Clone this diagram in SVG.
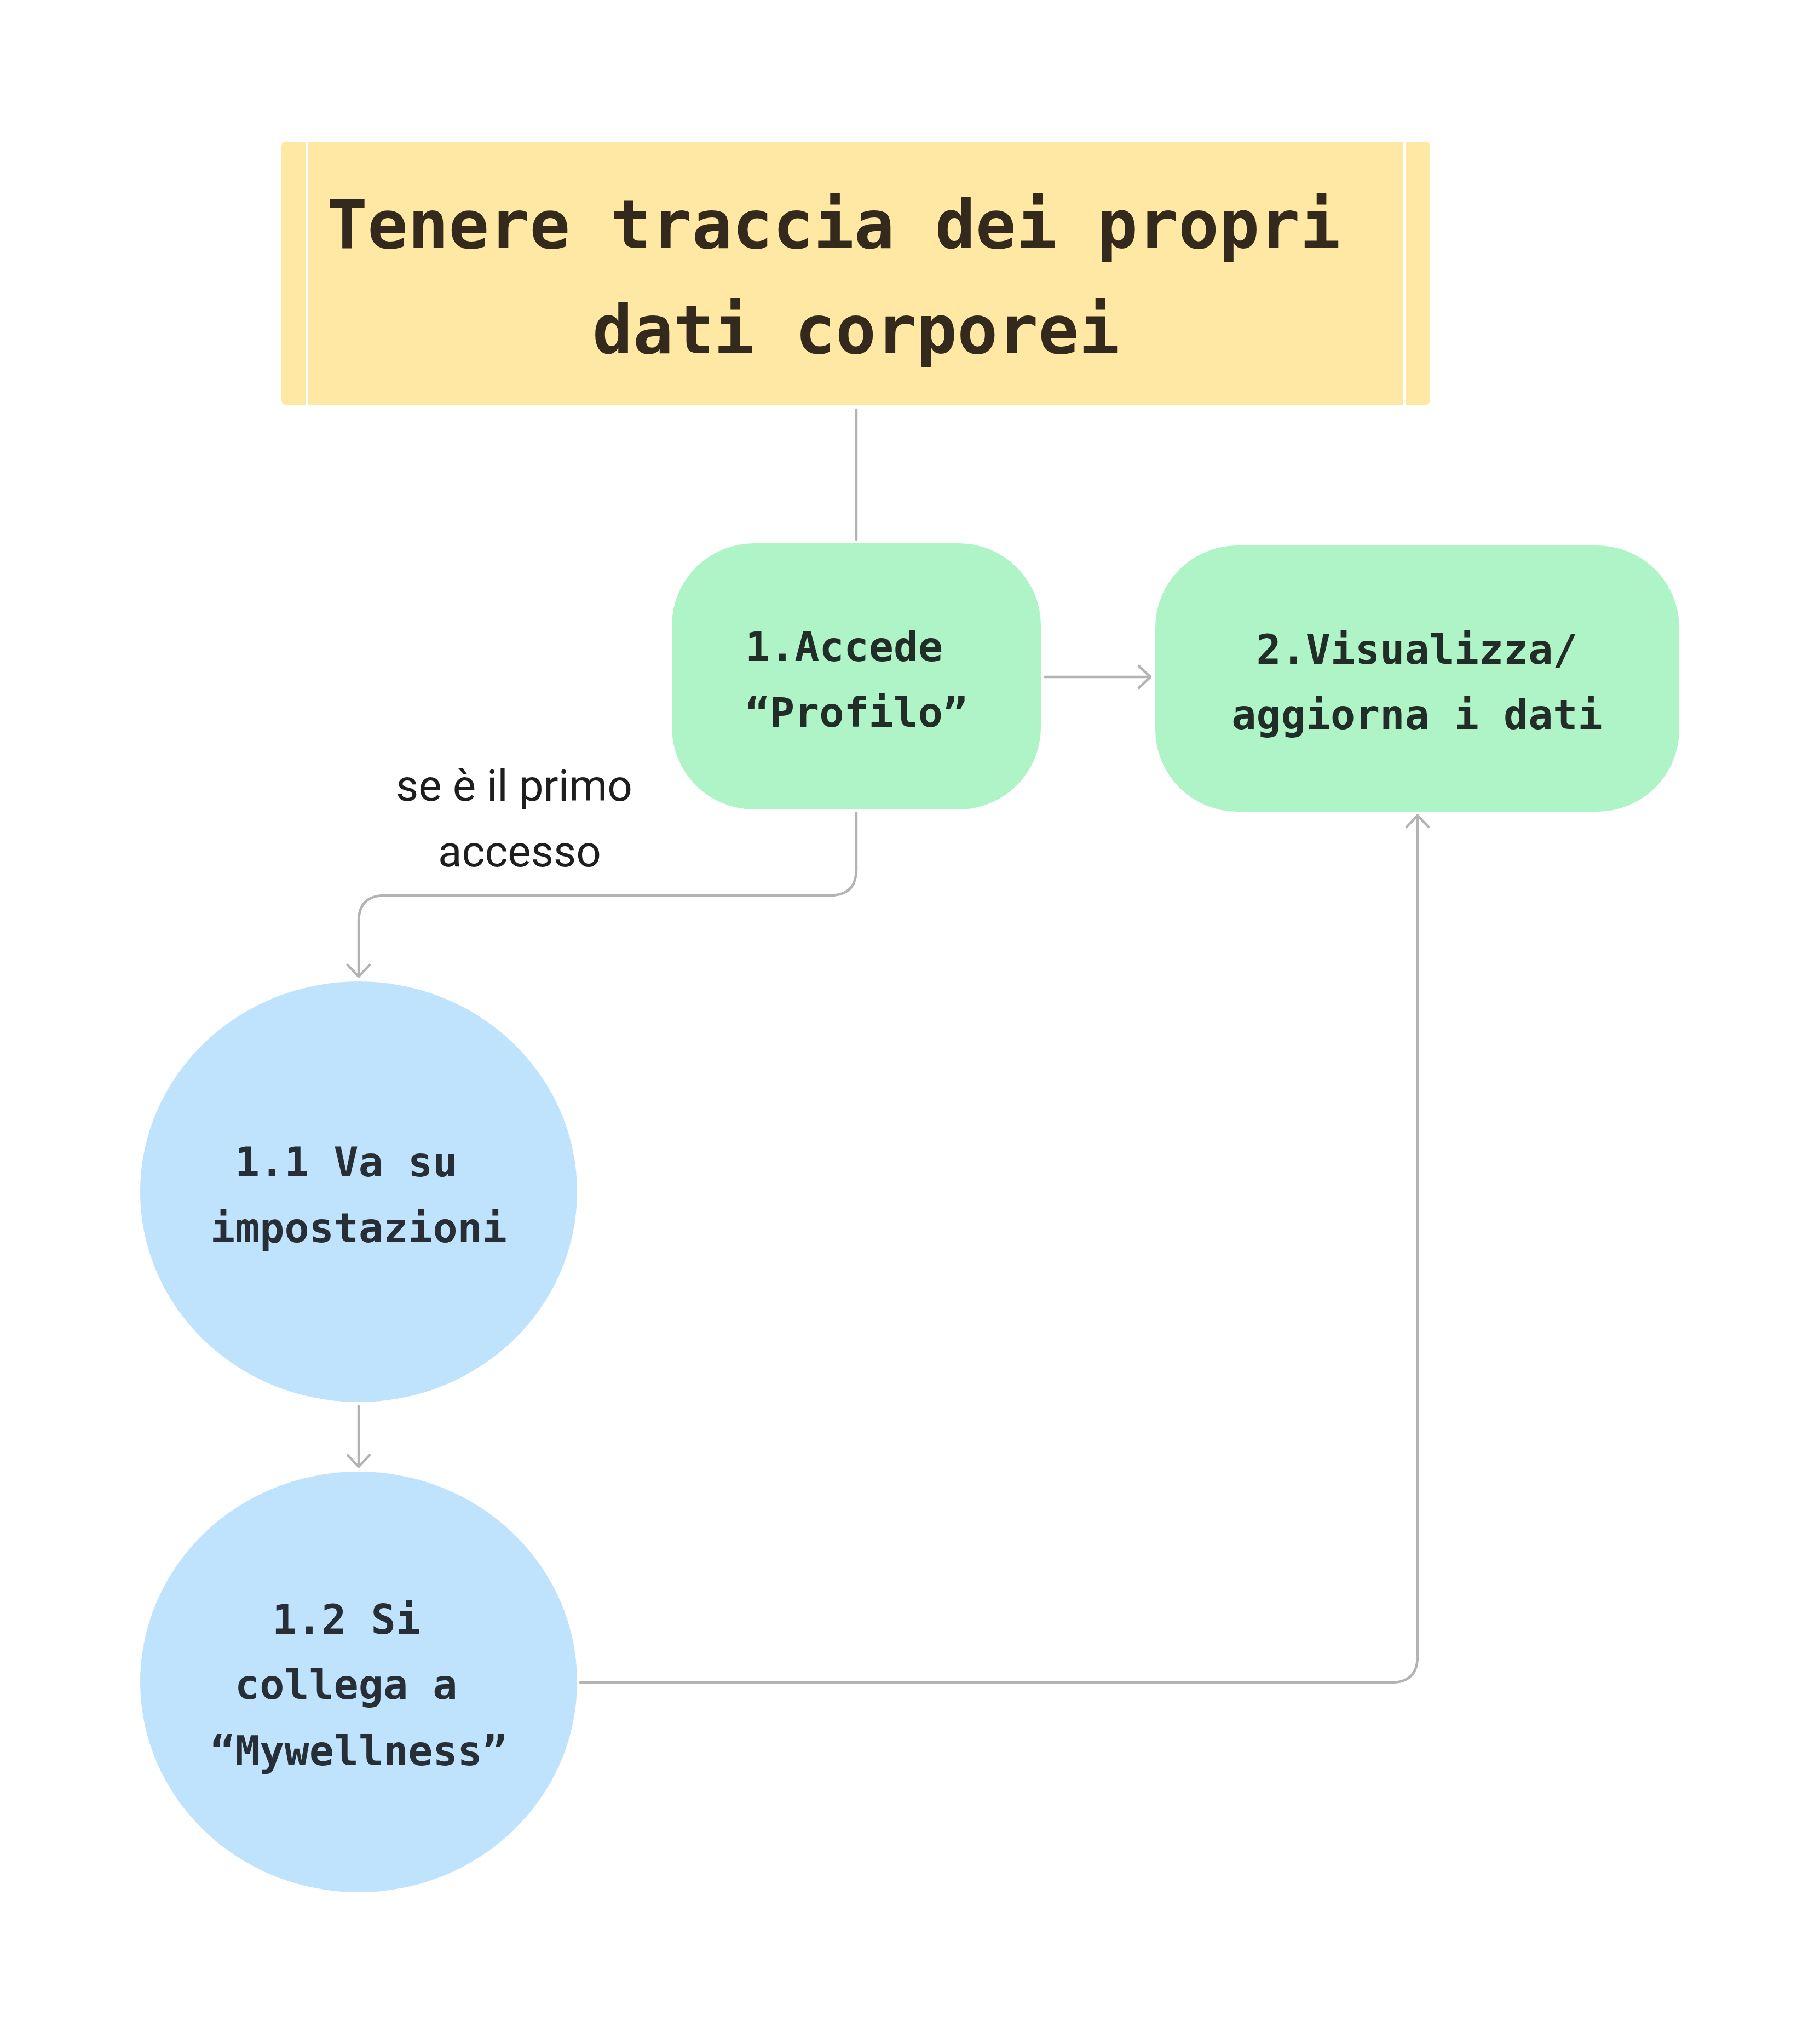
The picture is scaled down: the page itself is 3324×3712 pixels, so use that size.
<svg xmlns="http://www.w3.org/2000/svg" width="3324" height="3712" viewBox="0 0 3324 3712">
<style>
.mono{font-family:"DejaVu Sans Mono","Liberation Mono",monospace;font-weight:bold}
.title{font-size:123px;fill:#33291c}
.ntext{font-size:75px;fill:#232d27}
.ctext{font-size:75px;fill:#282e35}
.lbl{font-family:Roboto,"Liberation Sans",sans-serif;font-size:80px;fill:#1e1e1e}
.conn{fill:none;stroke:#b3b3b3;stroke-width:4.5;stroke-linecap:round}
</style>
<defs>
<marker id="arr" markerUnits="userSpaceOnUse" markerWidth="60" markerHeight="60" viewBox="-30 -30 60 60" refX="0" refY="0" orient="auto">
<path d="M-21,-20 L0,0 L-21,20" fill="none" stroke="#b3b3b3" stroke-width="4.5" stroke-linecap="round" stroke-linejoin="round"/>
</marker>
</defs>
<rect width="3324" height="3712" fill="#ffffff"/>
<g id="connectors">
<path class="conn" d="M1564,748 V985"/>
<path class="conn" d="M1908,1236 H2101" marker-end="url(#arr)"/>
<path class="conn" d="M1564,1484 V1587 Q1564,1635 1516,1635 H703 Q655,1635 655,1683 V1783" marker-end="url(#arr)"/>
<path class="conn" d="M655,2567 V2678" marker-end="url(#arr)"/>
<path class="conn" d="M1060,3072 H2541 Q2589,3072 2589,3024 V1489" marker-end="url(#arr)"/>
</g>
<g id="title">
<rect x="514" y="259" width="2098" height="480" rx="8" fill="#ffe8a3"/>
<rect x="559" y="259" width="4" height="480" fill="#ffffff"/>
<rect x="2563" y="259" width="4" height="480" fill="#ffffff"/>
<text class="mono title" x="597" y="453">Tenere traccia dei propri</text>
<text class="mono title" x="1563" y="645" text-anchor="middle">dati corporei</text>
</g>
<g id="node1">
<rect x="1227" y="992" width="674" height="486" rx="150" fill="#aff4c6"/>
<text class="mono ntext" x="1361" y="1207">1.Accede</text>
<text class="mono ntext" x="1564" y="1327" text-anchor="middle">“Profilo”</text>
</g>
<g id="node2">
<rect x="2110" y="996" width="957" height="486" rx="150" fill="#aff4c6"/>
<text class="mono ntext" x="2588" y="1212" text-anchor="middle">2.Visualizza/</text>
<text class="mono ntext" x="2588" y="1331" text-anchor="middle">aggiorna i dati</text>
</g>
<g id="label1">
<text class="lbl" x="939" y="1462" text-anchor="middle">se è il primo</text>
<text class="lbl" x="949" y="1582" text-anchor="middle">accesso</text>
</g>
<g id="node11">
<ellipse cx="655" cy="2176" rx="399" ry="384" fill="#bfe3fd"/>
<text class="mono ctext" x="429" y="2148">1.1 Va su</text>
<text class="mono ctext" x="655" y="2268" text-anchor="middle">impostazioni</text>
</g>
<g id="node12">
<ellipse cx="655" cy="3071" rx="399" ry="384" fill="#bfe3fd"/>
<text class="mono ctext" x="497" y="2983">1.2 Si</text>
<text class="mono ctext" x="429" y="3102">collega a</text>
<text class="mono ctext" x="655" y="3223" text-anchor="middle">“Mywellness”</text>
</g>
</svg>
